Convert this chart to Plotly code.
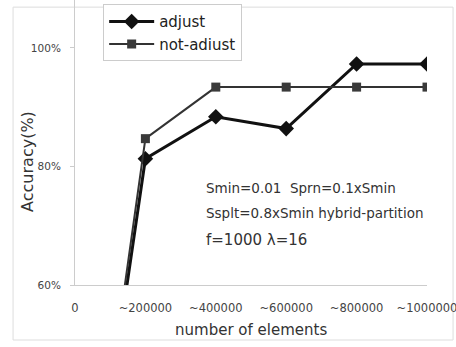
import plotly.graph_objects as go

categories = ["0", "~200000", "~400000", "~600000", "~800000", "~1000000"]
positions = [0, 1, 2, 3, 4, 5]
adjust = [0, 81.3, 88.4, 86.4, 97.3, 97.3]
not_adjust = [0, 84.7, 93.4, 93.4, 93.4, 93.4]
y_ticks = [60, 80, 100]
y_tick_labels = ["60%", "80%", "100%"]

font = "DejaVu Sans, Liberation Sans, Arial, sans-serif"

# plot area: x 75..427 px, y 0..285 px ; 60% at 285 px, 5.925 px per %
fig = go.Figure()
fig.add_trace(go.Scatter(
    x=positions, y=adjust, name="adjust", mode="lines+markers",
    line=dict(color="#111111", width=3),
    marker=dict(symbol="diamond", size=12, color="#111111"),
))
fig.add_trace(go.Scatter(
    x=positions, y=not_adjust, name="not-adiust", mode="lines+markers",
    line=dict(color="#333333", width=2),
    marker=dict(symbol="square", size=9, color="#3a3a3a"),
))

fig.update_layout(
    width=456, height=347,
    margin=dict(l=75, r=29, t=0, b=62, autoexpand=False),
    paper_bgcolor="white", plot_bgcolor="white",
    font=dict(family=font, color="#333333"),
    showlegend=True,
    legend=dict(
        x=0.08, y=0.985, xanchor="left", yanchor="top",
        bgcolor="white", bordercolor="#cccccc", borderwidth=1,
        font=dict(size=15, color="#222222"),
        itemwidth=45, tracegroupgap=0,
    ),
    xaxis=dict(
        range=[0, 5], tickvals=positions, ticktext=categories,
        showgrid=False, zeroline=False, showline=True, linecolor="#cccccc",
        ticks="", tickfont=dict(size=11.5, color="#444444"),
        ticklabelstandoff=12, ticklabeloverflow="allow",
    ),
    yaxis=dict(
        range=[60, 108.1], tickvals=y_ticks, ticktext=y_tick_labels,
        showgrid=False, zeroline=False, showline=True, linecolor="#cccccc",
        ticks="outside", ticklen=4, tickcolor="#cccccc",
        tickfont=dict(size=10.5, color="#444444"),
        ticklabelstandoff=7,
    ),
    shapes=[dict(
        type="rect", xref="paper", yref="paper",
        x0=-0.176, x1=1.074, y0=-0.193, y1=0.975,
        line=dict(color="#dddddd", width=1), layer="below",
    )],
    annotations=[
        dict(text="Accuracy(%)", xref="paper", yref="paper", x=-0.1335, y=0.432,
             xanchor="center", yanchor="middle",
             textangle=-90, showarrow=False, font=dict(size=16, color="#333333")),
        dict(text="number of elements", xref="paper", yref="paper", x=0.5, y=-0.158,
             xanchor="center", yanchor="middle",
             showarrow=False, font=dict(size=15, color="#333333")),
        dict(text="Smin=0.01  Sprn=0.1xSmin", xref="paper", yref="paper",
             x=0.366, y=0.340, xanchor="left", yanchor="middle", showarrow=False,
             font=dict(size=13.5, color="#333333")),
        dict(text="Ssplt=0.8xSmin hybrid-partition", xref="paper", yref="paper",
             x=0.366, y=0.253, xanchor="left", yanchor="middle", showarrow=False,
             font=dict(size=13.5, color="#333333")),
        dict(text="f=1000 λ=16", xref="paper", yref="paper",
             x=0.366, y=0.158, xanchor="left", yanchor="middle", showarrow=False,
             font=dict(size=15, color="#333333")),
    ],
)

fig.write_html("out.html", config={"displayModeBar": False},
               post_script="document.body.style.margin='0';")
